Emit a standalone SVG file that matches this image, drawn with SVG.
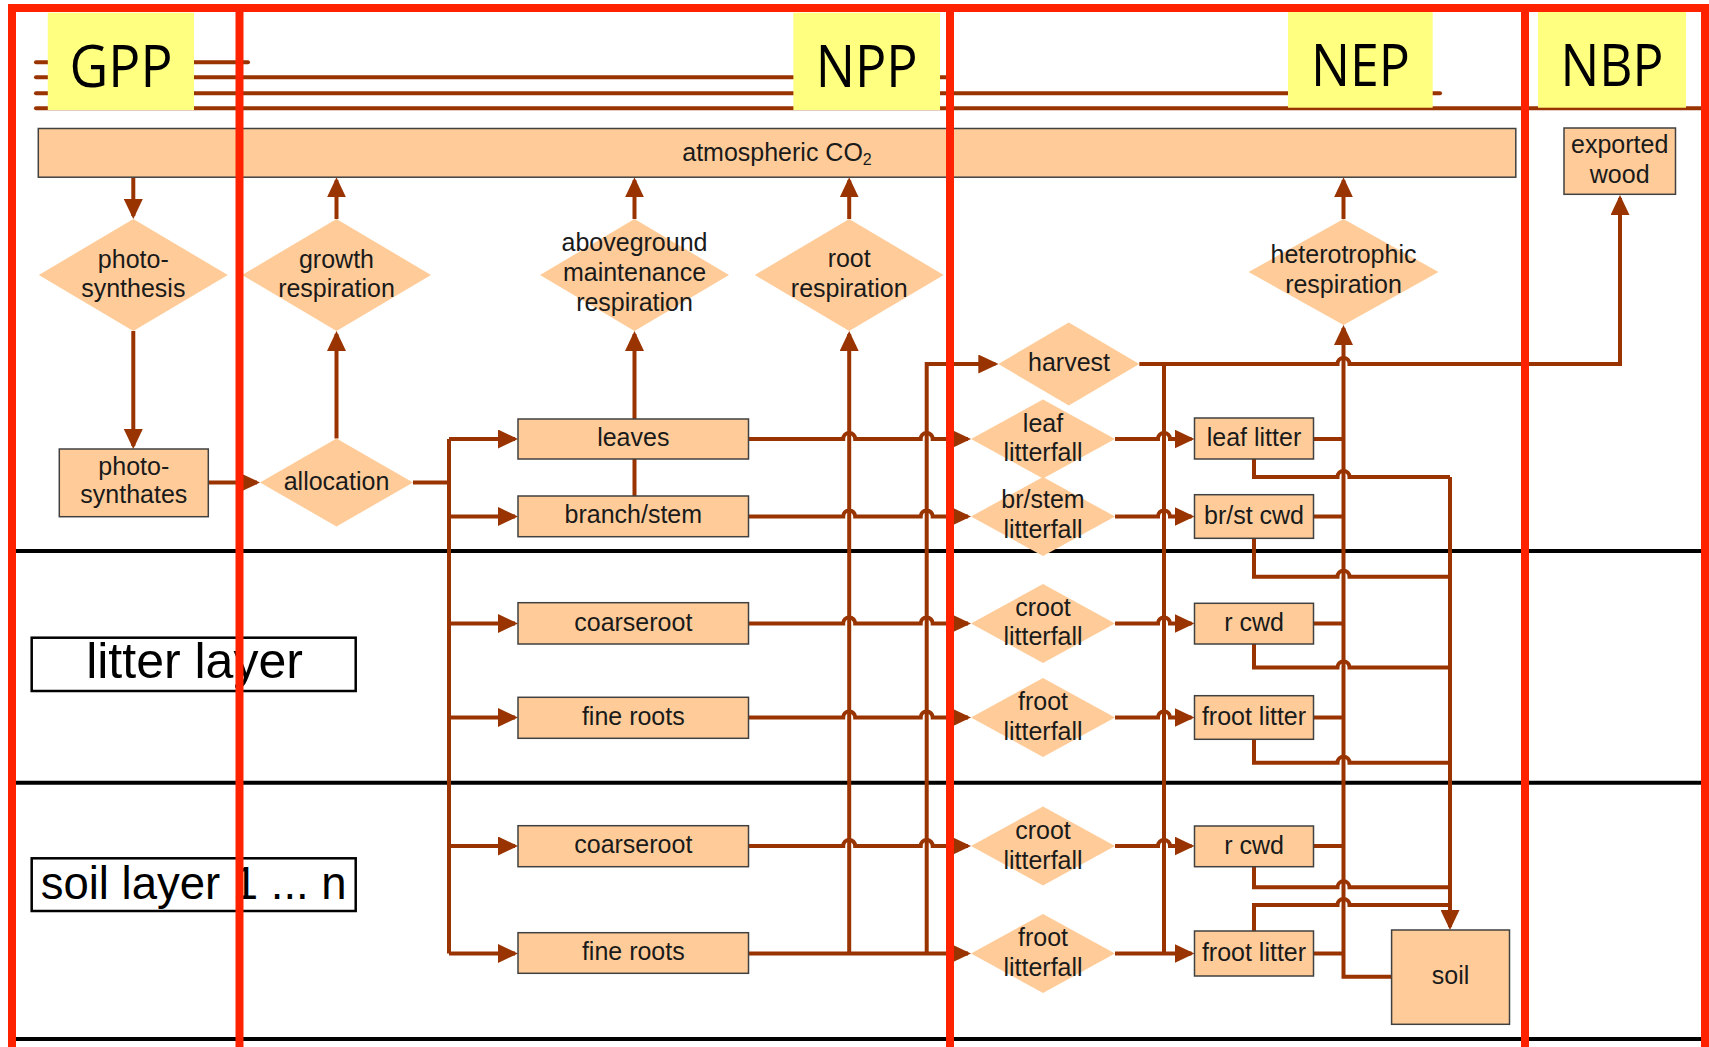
<svg xmlns="http://www.w3.org/2000/svg" width="1709" height="1047" viewBox="0 0 1709 1047">
<defs>
<style>
.c{fill:none;stroke:#993300;stroke-width:4}
.top{fill:none;stroke:#993300;stroke-width:4;stroke-linecap:round}
.d{fill:#FFCC99}
.b{fill:#FFCC99;stroke:#404040;stroke-width:1.5}
.t{font-family:"Liberation Sans",Arial,sans-serif;font-size:25px;fill:#1a1a1a;text-anchor:middle}
.big{font-family:"Open Sans","Liberation Sans",sans-serif;font-size:58px;fill:#000;text-anchor:middle}
.yl{fill:#FFFF80}
.red{stroke:#FF2200;stroke-width:8;fill:none}
.blk{stroke:#000;stroke-width:4}
.lab{fill:#fff;stroke:#000;stroke-width:2.5}
.lt{font-family:"Liberation Sans",Arial,sans-serif;fill:#000;text-anchor:middle}
</style>
<marker id="ah" viewBox="0 0 20 19" markerUnits="userSpaceOnUse" markerWidth="20" markerHeight="19" refX="17" refY="9.5" orient="auto"><path d="M0,0L20,9.5L0,19z" fill="#993300"/></marker>
</defs>
<rect x="0" y="0" width="1709" height="1047" fill="#fff"/>

<g id="layer-lines">
<line class="blk" x1="16" y1="551" x2="1709" y2="551"/>
<line class="blk" x1="16" y1="782.7" x2="1709" y2="782.7"/>
<line class="blk" x1="16" y1="1039" x2="1709" y2="1039"/>
</g>

<g id="flux-span-lines">
<path class="top" d="M36,62.3H248"/>
<path class="top" d="M36,77.3H946"/>
<path class="top" d="M36,93.3H1440"/>
<path class="top" d="M36,108.3H1703"/>
</g>

<g id="connectors">
<g class="c" marker-end="url(#ah)">
<path d="M133.3,177.3V216"/>
<path d="M133.3,331V446"/>
<path d="M208.3,482.5H257"/>
<path d="M336.5,438.5V334"/>
<path d="M336.5,219V180.3"/>
<path d="M449,439H515"/>
<path d="M449,516.5H515"/>
<path d="M449,623.5H515"/>
<path d="M449,717.5H515"/>
<path d="M449,846H515"/>
<path d="M449,953.5H515"/>
<path d="M634.5,419V334"/>
<path d="M634.5,219V180.3"/>
<path d="M849.2,953.5V334"/>
<path d="M849.2,219V180.3"/>
<path d="M926.7,953.5V364H995.3"/>
<path d="M748.5,439H843.2a6,6 0 0 1 12,0H920.7a6,6 0 0 1 12,0H968"/>
<path d="M748.5,516.5H843.2a6,6 0 0 1 12,0H920.7a6,6 0 0 1 12,0H968"/>
<path d="M748.5,623.5H843.2a6,6 0 0 1 12,0H920.7a6,6 0 0 1 12,0H968"/>
<path d="M748.5,717.5H843.2a6,6 0 0 1 12,0H920.7a6,6 0 0 1 12,0H968"/>
<path d="M748.5,846H843.2a6,6 0 0 1 12,0H920.7a6,6 0 0 1 12,0H968"/>
<path d="M748.5,953.5H968"/>
<path d="M1115,439H1158a6,6 0 0 1 12,0H1191.5"/>
<path d="M1115,516.5H1158a6,6 0 0 1 12,0H1191.5"/>
<path d="M1115,623.5H1158a6,6 0 0 1 12,0H1191.5"/>
<path d="M1115,717.5H1158a6,6 0 0 1 12,0H1191.5"/>
<path d="M1115,846H1158a6,6 0 0 1 12,0H1191.5"/>
<path d="M1115,953.5H1191.5"/>
<path d="M1139.3,364H1337.5a6,6 0 0 1 12,0H1620V198"/>
<path d="M1391.6,976.7H1343.5V328"/>
<path d="M1343.5,219V180.3"/>
<path d="M1450,477V927"/>
</g>
<g class="c">
<path d="M413,482.5H449"/>
<path d="M449,439V953.5"/>
<path d="M634.5,496V459"/>
<path d="M1164,364V953.5"/>
<path d="M1313.5,439H1343.5"/>
<path d="M1313.5,516.5H1343.5"/>
<path d="M1313.5,623.5H1343.5"/>
<path d="M1313.5,717.5H1343.5"/>
<path d="M1313.5,846H1343.5"/>
<path d="M1313.5,953.5H1343.5"/>
<path d="M1254,459V477H1337.5a6,6 0 0 1 12,0H1450"/>
<path d="M1254,538.3V576.7H1337.5a6,6 0 0 1 12,0H1450"/>
<path d="M1254,644V667.5H1337.5a6,6 0 0 1 12,0H1450"/>
<path d="M1254,739.3V762.7H1337.5a6,6 0 0 1 12,0H1450"/>
<path d="M1254,866.7V887.3H1337.5a6,6 0 0 1 12,0H1450"/>
<path d="M1254,931V905H1337.5a6,6 0 0 1 12,0H1450"/>
</g>
</g>

<g id="atmospheric-co2"><rect class="b" x="38.3" y="128.5" width="1477.5" height="48.7"/><text class="t" x="777" y="161">atmospheric CO<tspan font-size="16" dy="4">2</tspan></text></g>
<g id="exported-wood"><rect class="b" x="1564" y="128" width="111.5" height="66.3"/><text class="t" x="1619.7" y="153.3">exported</text><text class="t" x="1619.7" y="182.7">wood</text></g>

<g id="photosynthesis"><polygon class="d" points="133.3,219 227.8,275 133.3,331 38.8,275"/><text class="t" x="133.3" y="268">photo-</text><text class="t" x="133.3" y="297">synthesis</text></g>
<g id="growth-respiration"><polygon class="d" points="336.5,219 431,275 336.5,331 242,275"/><text class="t" x="336.5" y="268">growth</text><text class="t" x="336.5" y="297">respiration</text></g>
<g id="aboveground-maintenance-respiration"><polygon class="d" points="634.5,219 729,275 634.5,331 540,275"/><text class="t" x="634.5" y="251">aboveground</text><text class="t" x="634.5" y="281">maintenance</text><text class="t" x="634.5" y="311">respiration</text></g>
<g id="root-respiration"><polygon class="d" points="849.2,219 943.7,275 849.2,331 754.7,275"/><text class="t" x="849.2" y="267">root</text><text class="t" x="849.2" y="297">respiration</text></g>
<g id="heterotrophic-respiration"><polygon class="d" points="1343.5,219 1438.5,272 1343.5,325 1248.5,272"/><text class="t" x="1343.5" y="263.3">heterotrophic</text><text class="t" x="1343.5" y="292.7">respiration</text></g>

<g id="photosynthates"><rect class="b" x="59.3" y="449" width="149" height="67.7"/><text class="t" x="133.8" y="475">photo-</text><text class="t" x="133.8" y="503.3">synthates</text></g>
<g id="allocation"><polygon class="d" points="336.5,438.5 413,482.5 336.5,526.5 260,482.5"/><text class="t" x="336.5" y="489.5">allocation</text></g>

<g id="leaves"><rect class="b" x="518" y="419" width="230.5" height="40"/><text class="t" x="633.3" y="446">leaves</text></g>
<g id="branch-stem"><rect class="b" x="518" y="496" width="230.5" height="40.7"/><text class="t" x="633.3" y="523">branch/stem</text></g>
<g id="coarseroot-litter"><rect class="b" x="518" y="602.7" width="230.5" height="41.3"/><text class="t" x="633.3" y="630.5">coarseroot</text></g>
<g id="fine-roots-litter"><rect class="b" x="518" y="697.3" width="230.5" height="41"/><text class="t" x="633.3" y="724.5">fine roots</text></g>
<g id="coarseroot-soil"><rect class="b" x="518" y="825.7" width="230.5" height="41"/><text class="t" x="633.3" y="853">coarseroot</text></g>
<g id="fine-roots-soil"><rect class="b" x="518" y="932.7" width="230.5" height="40.6"/><text class="t" x="633.3" y="960">fine roots</text></g>

<g id="harvest"><polygon class="d" points="1068.8,322.5 1139.3,364 1068.8,405.5 998.3,364"/><text class="t" x="1069" y="371">harvest</text></g>
<g id="leaf-litterfall"><polygon class="d" points="1043,399.5 1115,439 1043,478.5 971,439"/><text class="t" x="1043" y="431.5">leaf</text><text class="t" x="1043" y="461">litterfall</text></g>
<g id="br-stem-litterfall"><polygon class="d" points="1043,477 1115,516.5 1043,556 971,516.5"/><text class="t" x="1043" y="508">br/stem</text><text class="t" x="1043" y="538">litterfall</text></g>
<g id="croot-litterfall-litter"><polygon class="d" points="1043,584 1115,623.5 1043,663 971,623.5"/><text class="t" x="1043" y="615.5">croot</text><text class="t" x="1043" y="645">litterfall</text></g>
<g id="froot-litterfall-litter"><polygon class="d" points="1043,678 1115,717.5 1043,757 971,717.5"/><text class="t" x="1043" y="709.5">froot</text><text class="t" x="1043" y="739.5">litterfall</text></g>
<g id="croot-litterfall-soil"><polygon class="d" points="1043,806.5 1115,846 1043,885.5 971,846"/><text class="t" x="1043" y="838.5">croot</text><text class="t" x="1043" y="868.5">litterfall</text></g>
<g id="froot-litterfall-soil"><polygon class="d" points="1043,914 1115,953.5 1043,993 971,953.5"/><text class="t" x="1043" y="945.5">froot</text><text class="t" x="1043" y="975.5">litterfall</text></g>

<g id="leaf-litter"><rect class="b" x="1194.5" y="418" width="119" height="41"/><text class="t" x="1254" y="446">leaf litter</text></g>
<g id="br-st-cwd"><rect class="b" x="1194.5" y="494.7" width="119" height="43.6"/><text class="t" x="1254" y="524">br/st cwd</text></g>
<g id="r-cwd-litter"><rect class="b" x="1194.5" y="603.3" width="119" height="40.7"/><text class="t" x="1254" y="631">r cwd</text></g>
<g id="froot-litter-litter"><rect class="b" x="1194.5" y="695.7" width="119" height="43.6"/><text class="t" x="1254" y="725">froot litter</text></g>
<g id="r-cwd-soil"><rect class="b" x="1194.5" y="826" width="119" height="40.7"/><text class="t" x="1254" y="853.5">r cwd</text></g>
<g id="froot-litter-soil"><rect class="b" x="1194.5" y="931" width="119" height="45"/><text class="t" x="1254" y="961">froot litter</text></g>
<g id="soil"><rect class="b" x="1391.6" y="930" width="117.9" height="94.3"/><text class="t" x="1450.5" y="984">soil</text></g>

<g id="label-GPP"><rect class="yl" x="47.8" y="12.7" width="146.2" height="97.3"/><text class="big" x="121" y="87.3" textLength="103" lengthAdjust="spacingAndGlyphs">GPP</text></g>
<g id="label-NPP"><rect class="yl" x="793.4" y="12.7" width="146.6" height="97.3"/><text class="big" x="866.7" y="86.5" textLength="102" lengthAdjust="spacingAndGlyphs">NPP</text></g>
<g id="label-NEP"><rect class="yl" x="1288" y="11" width="144.7" height="96.7"/><text class="big" x="1360.4" y="85.5" textLength="99" lengthAdjust="spacingAndGlyphs">NEP</text></g>
<g id="label-NBP"><rect class="yl" x="1538" y="11" width="148" height="96.7"/><text class="big" x="1612" y="85.5" textLength="103" lengthAdjust="spacingAndGlyphs">NBP</text></g>

<g id="litter-layer"><rect class="lab" x="31.7" y="637.7" width="324" height="53.3"/><text class="lt" x="194.5" y="678.3" font-size="50">litter layer</text></g>
<g id="soil-layer"><rect class="lab" x="31.7" y="858.3" width="324" height="52.7"/><text class="lt" x="193.7" y="899.3" font-size="45.5">soil layer 1 ... n</text></g>

<g id="section-dividers">
<line class="red" x1="8" y1="8" x2="1709" y2="8"/>
<line class="red" x1="12" y1="4" x2="12" y2="1047"/>
<line class="red" x1="239.5" y1="4" x2="239.5" y2="1047"/>
<line class="red" x1="950" y1="4" x2="950" y2="1047"/>
<line class="red" x1="1525" y1="4" x2="1525" y2="1047"/>
<line class="red" x1="1705" y1="4" x2="1705" y2="1047"/>
</g>
</svg>
